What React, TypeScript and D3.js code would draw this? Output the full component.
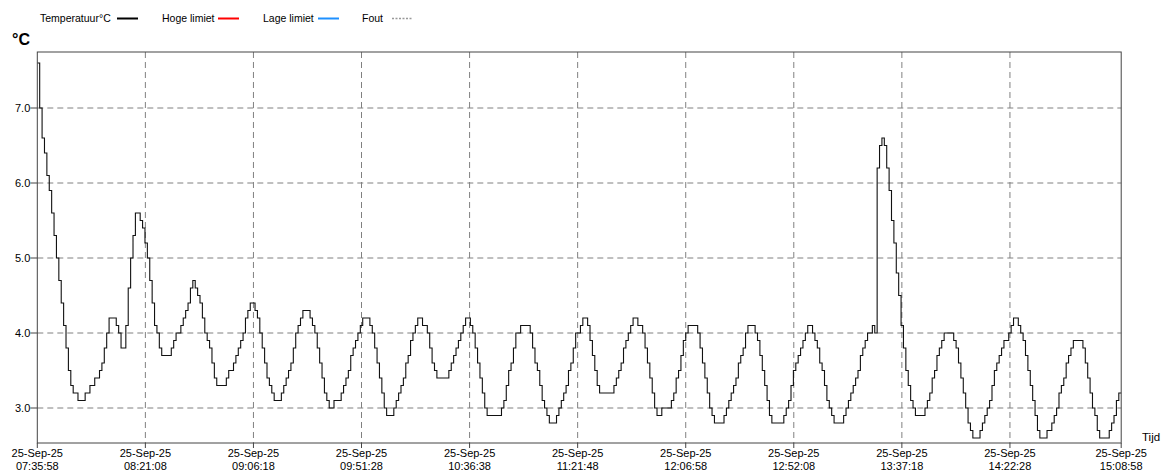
import React from "react";
import * as d3 from "d3";

// logger export, one sample per minute, 25-Sep-25
const startTime = "07:35:58";
const sampleMinutes = 1;

// °C (0.1 resolution)
const temperature = [
  7.6, 7.0, 6.6, 6.4, 6.1, 5.9, 5.6, 5.3, 5.0, 4.7,
  4.4, 4.1, 3.8, 3.5, 3.3, 3.2, 3.2, 3.1, 3.1, 3.1,
  3.2, 3.2, 3.3, 3.3, 3.4, 3.4, 3.5, 3.6, 3.8, 4.0,
  4.2, 4.2, 4.2, 4.1, 4.0, 3.8, 3.8, 4.1, 4.6, 5.0,
  5.3, 5.6, 5.6, 5.5, 5.4, 5.2, 5.0, 4.7, 4.4, 4.1,
  4.0, 3.8, 3.7, 3.7, 3.7, 3.7, 3.8, 3.9, 4.0, 4.0,
  4.1, 4.2, 4.3, 4.4, 4.6, 4.7, 4.6, 4.5, 4.4, 4.2,
  4.0, 3.9, 3.8, 3.6, 3.4, 3.3, 3.3, 3.3, 3.3, 3.4,
  3.5, 3.5, 3.6, 3.7, 3.8, 3.9, 4.0, 4.2, 4.3, 4.4,
  4.4, 4.3, 4.2, 4.0, 3.8, 3.6, 3.4, 3.3, 3.2, 3.1,
  3.1, 3.1, 3.2, 3.3, 3.4, 3.5, 3.6, 3.8, 4.0, 4.1,
  4.2, 4.3, 4.3, 4.3, 4.2, 4.1, 4.0, 3.8, 3.6, 3.4,
  3.2, 3.1, 3.0, 3.0, 3.1, 3.1, 3.1, 3.2, 3.3, 3.4,
  3.5, 3.7, 3.8, 3.9, 4.0, 4.1, 4.2, 4.2, 4.2, 4.1,
  4.0, 3.8, 3.6, 3.4, 3.2, 3.0, 2.9, 2.9, 2.9, 3.0,
  3.1, 3.2, 3.3, 3.4, 3.6, 3.7, 3.9, 4.0, 4.1, 4.2,
  4.2, 4.1, 4.1, 4.0, 3.8, 3.6, 3.5, 3.4, 3.4, 3.4,
  3.4, 3.4, 3.5, 3.6, 3.7, 3.8, 3.9, 4.0, 4.1, 4.2,
  4.2, 4.1, 4.0, 3.8, 3.6, 3.4, 3.2, 3.0, 2.9, 2.9,
  2.9, 2.9, 2.9, 2.9, 3.0, 3.1, 3.3, 3.5, 3.6, 3.8,
  4.0, 4.0, 4.1, 4.1, 4.1, 4.1, 4.0, 3.8, 3.6, 3.5,
  3.3, 3.1, 3.0, 2.9, 2.8, 2.8, 2.8, 2.9, 3.0, 3.1,
  3.2, 3.3, 3.5, 3.6, 3.8, 4.0, 4.0, 4.1, 4.2, 4.2,
  4.1, 3.9, 3.7, 3.5, 3.3, 3.2, 3.2, 3.2, 3.2, 3.2,
  3.2, 3.3, 3.4, 3.5, 3.6, 3.8, 3.9, 4.0, 4.1, 4.2,
  4.2, 4.1, 4.1, 4.0, 3.8, 3.6, 3.4, 3.2, 3.0, 2.9,
  2.9, 3.0, 3.0, 3.0, 3.0, 3.1, 3.2, 3.4, 3.5, 3.7,
  3.9, 4.0, 4.1, 4.1, 4.1, 4.1, 4.0, 3.8, 3.6, 3.4,
  3.2, 3.0, 2.9, 2.8, 2.8, 2.8, 2.8, 2.9, 3.0, 3.1,
  3.2, 3.3, 3.4, 3.6, 3.7, 3.8, 4.0, 4.1, 4.1, 4.1,
  4.0, 3.9, 3.7, 3.5, 3.3, 3.1, 2.9, 2.8, 2.8, 2.8,
  2.8, 2.8, 2.9, 3.0, 3.1, 3.3, 3.5, 3.6, 3.7, 3.8,
  3.9, 4.0, 4.1, 4.1, 4.0, 3.9, 3.8, 3.6, 3.5, 3.3,
  3.1, 3.0, 2.9, 2.8, 2.8, 2.8, 2.8, 2.9, 3.0, 3.1,
  3.2, 3.3, 3.4, 3.5, 3.7, 3.8, 3.9, 4.0, 4.0, 4.1,
  4.0, 6.2, 6.5, 6.6, 6.5, 6.2, 5.9, 5.5, 5.2, 4.8,
  4.5, 4.1, 3.8, 3.5, 3.3, 3.1, 3.0, 2.9, 2.9, 2.9,
  2.9, 3.0, 3.1, 3.2, 3.4, 3.5, 3.7, 3.8, 3.9, 4.0,
  4.0, 4.0, 4.0, 3.9, 3.8, 3.6, 3.4, 3.2, 3.0, 2.8,
  2.7, 2.6, 2.6, 2.6, 2.7, 2.8, 2.9, 3.0, 3.1, 3.3,
  3.5, 3.6, 3.7, 3.8, 3.9, 3.9, 4.0, 4.1, 4.2, 4.2,
  4.1, 4.0, 3.9, 3.7, 3.5, 3.3, 3.1, 2.9, 2.7, 2.6,
  2.6, 2.6, 2.7, 2.7, 2.8, 2.9, 3.0, 3.2, 3.3, 3.4,
  3.6, 3.7, 3.8, 3.9, 3.9, 3.9, 3.9, 3.8, 3.6, 3.4,
  3.2, 3.0, 2.9, 2.7, 2.6, 2.6, 2.6, 2.6, 2.7, 2.8,
  2.9, 3.1, 3.2, 3.2,
];

const yTicks = [3.0, 4.0, 5.0, 6.0, 7.0];
const xTickDate = "25-Sep-25";
const xTickTimes = [
  "07:35:58", "08:21:08", "09:06:18", "09:51:28", "10:36:38", "11:21:48",
  "12:06:58", "12:52:08", "13:37:18", "14:22:28", "15:08:58",
];

const legendItems = [
  { label: "Temperatuur°C", x: 40, lineX: 117, color: "#000", dash: "" },
  { label: "Hoge limiet", x: 162, lineX: 218, color: "#ff0000", dash: "" },
  { label: "Lage limiet", x: 263, lineX: 318, color: "#1e90ff", dash: "" },
  { label: "Fout", x: 362, lineX: 392, color: "#999", dash: "2,1.5" },
];

const W = 1170;
const H = 473;
const plot = { left: 37.3, right: 1121.2, top: 52, bottom: 443 };
const font = "'Liberation Sans', Arial, sans-serif";

const App = () => {
  const parse = d3.timeParse("%H:%M:%S");
  const t0 = parse(startTime) as Date;
  const points = temperature.map((v, i) => ({
    t: d3.timeMinute.offset(t0, i * sampleMinutes),
    v,
  }));
  const tickDates = xTickTimes.map((s) => parse(s) as Date);

  const x = d3
    .scaleTime()
    .domain([t0, tickDates[tickDates.length - 1]])
    .range([plot.left, plot.right]);
  // 3.0 -> 408px, 7.0 -> 108px
  const y = d3.scaleLinear().domain([3, 7]).range([408, 108]);

  const line = d3
    .line<{ t: Date; v: number }>()
    .x((d) => x(d.t))
    .y((d) => y(d.v))
    .curve(d3.curveStepAfter);

  const grid = "#808080";

  return (
    <svg
      width={W}
      height={H}
      style={{ position: "absolute", left: 0, top: 0, background: "#fff" }}
      fontFamily={font}
    >
      {/* legend */}
      {legendItems.map((d) => (
        <g key={d.label}>
          <text x={d.x} y={22} fontSize={10.5} fill="#000">
            {d.label}
          </text>
          <line
            x1={d.lineX}
            x2={d.lineX + 21}
            y1={18.5}
            y2={18.5}
            stroke={d.color}
            strokeWidth={d.dash ? 1.5 : 2}
            strokeDasharray={d.dash || undefined}
          />
        </g>
      ))}

      <text x={12} y={45} fontSize={16} fontWeight="bold" fill="#000">
        °C
      </text>

      {/* horizontal grid */}
      {yTicks.map((v) => (
        <g key={v}>
          <line
            x1={plot.left}
            x2={plot.right}
            y1={y(v)}
            y2={y(v)}
            stroke={grid}
            strokeDasharray="6,4"
          />
          <line
            x1={plot.left - 7}
            x2={plot.left}
            y1={y(v)}
            y2={y(v)}
            stroke="#444"
          />
          <text
            x={plot.left - 7}
            y={y(v) + 4}
            fontSize={11}
            textAnchor="end"
            fill="#000"
          >
            {v.toFixed(1)}
          </text>
        </g>
      ))}

      {/* vertical grid + x labels */}
      {tickDates.map((d, i) => (
        <g key={xTickTimes[i]}>
          {i > 0 && i < tickDates.length - 1 && (
            <line
              x1={x(d)}
              x2={x(d)}
              y1={plot.top}
              y2={plot.bottom}
              stroke={grid}
              strokeDasharray="6,4"
            />
          )}
          <line
            x1={x(d)}
            x2={x(d)}
            y1={plot.bottom}
            y2={plot.bottom + 5}
            stroke="#444"
          />
          <text
            x={x(d)}
            y={457}
            fontSize={11}
            textAnchor="middle"
            fill="#000"
          >
            {xTickDate}
          </text>
          <text
            x={x(d)}
            y={470}
            fontSize={11}
            textAnchor="middle"
            fill="#000"
          >
            {xTickTimes[i]}
          </text>
        </g>
      ))}

      <text x={1142} y={441} fontSize={11.5} fill="#000">
        Tijd
      </text>

      <path
        d={line(points) || ""}
        fill="none"
        stroke="#111"
        strokeWidth={1.1}
      />

      {/* frame */}
      <rect
        x={plot.left}
        y={plot.top}
        width={plot.right - plot.left}
        height={plot.bottom - plot.top}
        fill="none"
        stroke="#444"
      />
    </svg>
  );
};

export default App;
